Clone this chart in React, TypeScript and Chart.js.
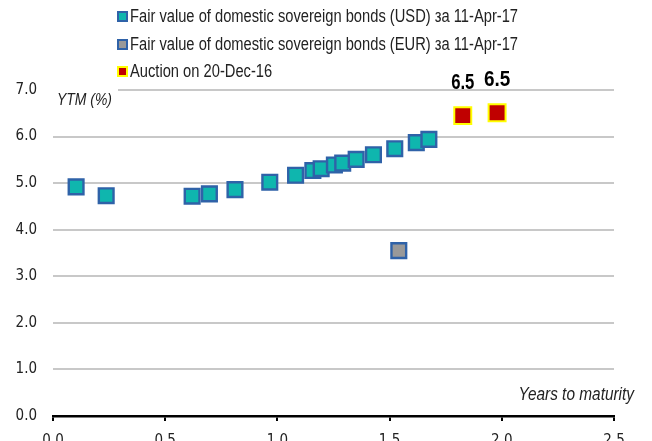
import React, { useEffect, useRef } from "react";
import { Chart, registerables } from "chart.js";

Chart.register(...registerables);

// ---- Data ----
const usdYears = [0.103, 0.237, 0.62, 0.697, 0.811, 0.966, 1.081, 1.158, 1.195, 1.254, 1.291, 1.351, 1.428, 1.523, 1.619, 1.675];
const usdYtm = [4.92, 4.73, 4.72, 4.77, 4.86, 5.02, 5.17, 5.27, 5.31, 5.39, 5.43, 5.51, 5.61, 5.74, 5.87, 5.94];
const eurYears = [1.541];
const eurYtm = [3.55];
const auctionYears = [1.826, 1.979];
const auctionYtm = [6.45, 6.51];
const auctionLabels = ["6.5", "6.5"];
const xTickValues = [0, 0.5, 1, 1.5, 2, 2.5];
const yTickValues = [0, 1, 2, 3, 4, 5, 6, 7];
const seriesNames = [
  "Fair value of domestic sovereign bonds (USD) за 11-Apr-17",
  "Fair value of domestic sovereign bonds (EUR) за 11-Apr-17",
  "Auction on 20-Dec-16",
];
const yAxisTitle = "YTM (%)";
const xAxisTitle = "Years to maturity";

const SANS = '"Liberation Sans", Arial, sans-serif';
const TICKFONT = '"DejaVu Sans Condensed", "Liberation Sans", sans-serif';

const TEAL = "#0fb6ae";
const BLUE = "#2f62a8";
const GRAY = "#999999";
const RED = "#c00000";
const YELLOW = "#ffff00";

const toPoints = (xs: number[], ys: number[]) => xs.map((x, i) => ({ x, y: ys[i] }));

// draw horizontally condensed text (Arial Narrow look)
function narrowText(ctx: any, text: string, x: number, y: number, font: string, align: string, sx = 0.82) {
  ctx.save();
  ctx.font = font;
  ctx.textAlign = align;
  ctx.textBaseline = "middle";
  ctx.translate(x, y);
  ctx.scale(sx, 1);
  ctx.fillText(text, 0, 0);
  ctx.restore();
}

const legendPlugin = {
  id: "customLegend",
  afterDraw(chart: any) {
    const ctx = chart.ctx;
    ctx.save();
    const items = chart.data.datasets;
    const order = [1, 2, 0];
    const ys = [17, 45, 72];
    order.forEach((di, i) => {
      const ds = items[di];
      const y = ys[i];
      ctx.fillStyle = ds.pointBackgroundColor;
      ctx.strokeStyle = ds.pointBorderColor;
      ctx.lineWidth = 2;
      ctx.fillRect(118, y - 5, 9, 9);
      ctx.strokeRect(118, y - 5, 9, 9);
      ctx.fillStyle = "#222";
      narrowText(ctx, ds.label, 130, y, `17.5px ${SANS}`, "left", 0.84);
    });
    ctx.restore();
  },
};

const annotationsPlugin = {
  id: "annotations",
  afterDraw(chart: any) {
    const ctx = chart.ctx;
    const area = chart.chartArea;
    const yScale = chart.scales.y;
    ctx.save();
    const yTop = yScale.getPixelForValue(7);
    ctx.fillStyle = "#fff";
    ctx.fillRect(area.left, yTop - 3, 65, 6);
    ctx.fillStyle = "#222";
    narrowText(ctx, yAxisTitle, area.left + 4, yTop + 10, `italic 17px ${SANS}`, "left", 0.82);
    narrowText(ctx, xAxisTitle, area.right + 20, area.bottom - 21, `italic 17.5px ${SANS}`, "right", 0.88);
    const meta = chart.getDatasetMeta(0);
    ctx.fillStyle = "#000";
    meta.data.forEach((pt: any, i: number) => {
      narrowText(ctx, auctionLabels[i], pt.x, pt.y - 33, `bold 22px ${SANS}`, "center", i === 0 ? 0.76 : 0.86);
    });
    ctx.restore();
  },
};

export default function App() {
  const ref = useRef<HTMLCanvasElement>(null);
  useEffect(() => {
    const chart = new Chart(ref.current!, {
      type: "scatter",
      data: {
        datasets: [
          {
            label: seriesNames[2],
            data: toPoints(auctionYears, auctionYtm),
            pointStyle: "rect",
            pointRadius: 12,
            pointBorderWidth: 2,
            pointBackgroundColor: RED,
            pointBorderColor: YELLOW,
            backgroundColor: RED,
            borderColor: YELLOW,
          },
          {
            label: seriesNames[0],
            data: toPoints(usdYears, usdYtm),
            pointStyle: "rect",
            pointRadius: 10.4,
            pointBorderWidth: 2.4,
            pointBackgroundColor: TEAL,
            pointBorderColor: BLUE,
            backgroundColor: TEAL,
            borderColor: BLUE,
          },
          {
            label: seriesNames[1],
            data: toPoints(eurYears, eurYtm),
            pointStyle: "rect",
            pointRadius: 10.4,
            pointBorderWidth: 2.4,
            pointBackgroundColor: GRAY,
            pointBorderColor: BLUE,
            backgroundColor: GRAY,
            borderColor: BLUE,
          },
        ] as any,
      },
      options: {
        animation: false,
        responsive: false,
        devicePixelRatio: 1,
        layout: { padding: { top: 90, right: 38, left: 0, bottom: 0 } },
        plugins: {
          legend: { display: false },
          tooltip: { enabled: false },
        },
        scales: {
          x: {
            type: "linear",
            min: 0,
            max: 2.5,
            afterFit: (s: any) => {
              s.height = 25;
            },
            afterBuildTicks: (s: any) => {
              s.ticks = xTickValues.map((v) => ({ value: v }));
            },
            ticks: {
              padding: 11,
              color: "#222",
              font: { family: TICKFONT, size: 15 },
              callback: (v: any) => Number(v).toFixed(1),
              maxRotation: 0,
            },
            grid: {
              display: true,
              drawOnChartArea: false,
              drawTicks: true,
              tickLength: 5,
              color: "#000",
              lineWidth: 2,
            },
            border: { display: true, color: "#000", width: 2.5 },
          },
          y: {
            type: "linear",
            min: 0,
            max: 7,
            afterFit: (s: any) => {
              s.width = 53;
            },
            afterBuildTicks: (s: any) => {
              s.ticks = yTickValues.map((v) => ({ value: v }));
            },
            ticks: {
              padding: 16,
              color: "#222",
              font: { family: TICKFONT, size: 15 },
              callback: (v: any) => Number(v).toFixed(1),
            },
            grid: {
              drawTicks: false,
              color: "#c8c8c8",
              lineWidth: 2,
            },
            border: { display: false },
          },
        },
      },
      plugins: [legendPlugin, annotationsPlugin],
    });
    return () => chart.destroy();
  }, []);
  return (
    <div style={{ position: "absolute", left: 0, top: 0, width: 652, height: 441, background: "#fff" }}>
      <canvas ref={ref} width={652} height={441} style={{ display: "block", width: 652, height: 441 }} />
    </div>
  );
}
